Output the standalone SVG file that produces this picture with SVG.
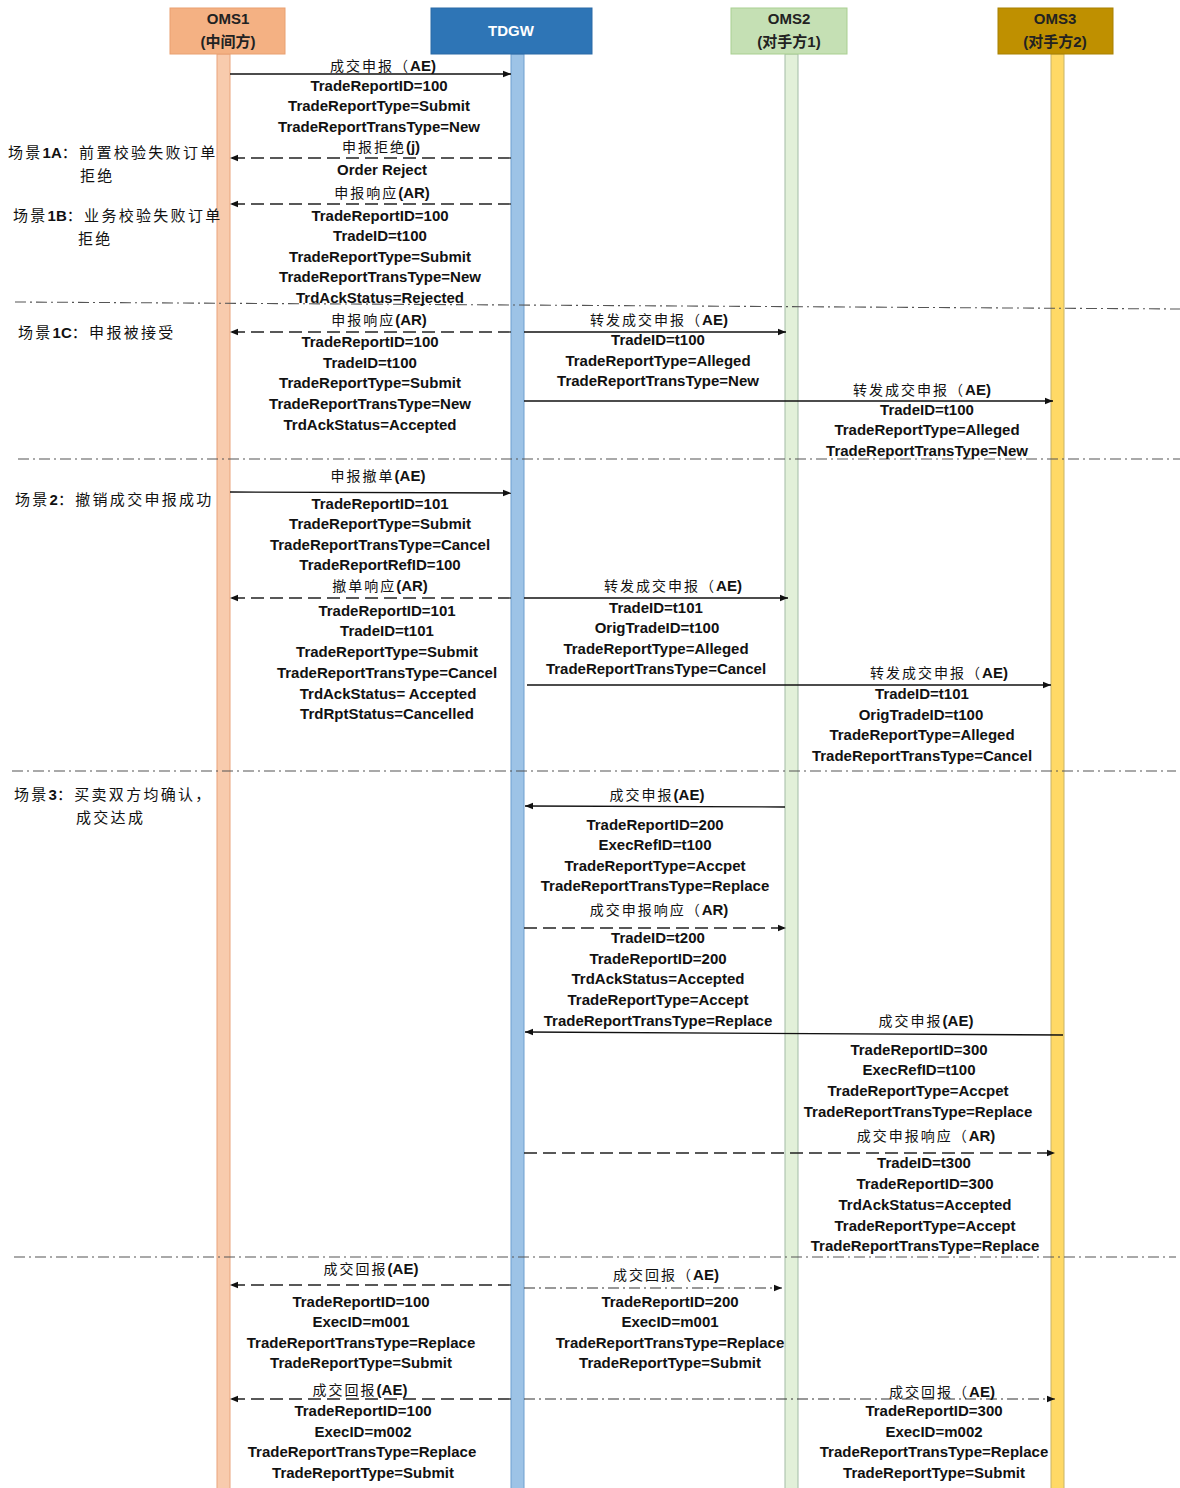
<svg xmlns="http://www.w3.org/2000/svg" width="1180" height="1488" viewBox="0 0 1180 1488">
<style>
.hd{font-family:"Liberation Sans","Noto Sans CJK SC",sans-serif;font-size:15px;font-weight:bold;fill:#222;text-anchor:middle}
.hc{font-family:"Noto Sans CJK SC",sans-serif;font-weight:bold}
.t{font-family:"Liberation Sans","Noto Sans CJK SC",sans-serif;font-size:15px;font-weight:bold;fill:#111;text-anchor:middle}
.c{font-family:"Noto Sans CJK SC",sans-serif;font-size:14px;font-weight:normal;letter-spacing:2px}
.s{font-family:"Noto Sans CJK SC",sans-serif;font-size:15px;font-weight:normal;letter-spacing:2.3px;fill:#111}
.sb{font-family:"Liberation Sans",sans-serif;font-weight:bold;letter-spacing:0}
.sol{stroke:#111;stroke-width:1.3;fill:none;marker-end:url(#ah)}
.dsh{stroke:#222;stroke-width:1.3;fill:none;stroke-dasharray:13 6;marker-end:url(#ah)}
.dd{stroke:#333;stroke-width:1.2;fill:none;stroke-dasharray:11 4 2 4;marker-end:url(#ah)}
.sep{stroke:#555;stroke-width:1.1;fill:none;stroke-dasharray:11 4 2 4}
</style>
<defs>
<marker id="ah" viewBox="0 0 10 10" refX="10" refY="5" markerWidth="9" markerHeight="8" markerUnits="userSpaceOnUse" orient="auto">
<path d="M0,1 L10,5 L0,9 z" fill="#111"/>
</marker>
</defs>
<rect width="1180" height="1488" fill="#fff"/>

<g id="oms1">
<rect x="217" y="54" width="13" height="1440" fill="#F8CBAD" stroke="#E9A47C" stroke-width="1"/>
<rect x="170" y="8" width="115" height="46" fill="#F4B183" stroke="#E9A070" stroke-width="1"/>
<text class="hd" x="228" y="24">OMS1</text>
<text class="hd" x="228" y="47">(<tspan class="hc">中间方</tspan>)</text>
</g>
<g id="tdgw">
<rect x="511" y="54" width="13" height="1440" fill="#9DC3E6" stroke="#6F9FCF" stroke-width="1"/>
<rect x="431" y="8" width="161" height="46" fill="#2E75B6" stroke="#2A6AA6" stroke-width="1"/>
<text class="hd" x="511" y="36" style="fill:#fff">TDGW</text>
</g>
<g id="oms2">
<rect x="785" y="54" width="13" height="1440" fill="#E2F0D9" stroke="#A3BCA6" stroke-width="1"/>
<rect x="731" y="8" width="116" height="46" fill="#C5E0B4" stroke="#A9CF91" stroke-width="1"/>
<text class="hd" x="789" y="24">OMS2</text>
<text class="hd" x="789" y="47">(<tspan class="hc">对手方</tspan>1)</text>
</g>
<g id="oms3">
<rect x="1051" y="54" width="13" height="1440" fill="#FFD966" stroke="#C9B466" stroke-width="1"/>
<rect x="998" y="8" width="115" height="46" fill="#BF9000" stroke="#A88000" stroke-width="1"/>
<text class="hd" x="1055" y="24">OMS3</text>
<text class="hd" x="1055" y="47">(<tspan class="hc">对手方</tspan>2)</text>
</g>

<g id="separators">
<line class="sep" x1="15" y1="302" x2="1180" y2="309"/>
<line class="sep" x1="18" y1="459" x2="1180" y2="459"/>
<line class="sep" x1="12" y1="771" x2="1176" y2="771"/>
<line class="sep" x1="14" y1="1257" x2="1176" y2="1257"/>
</g>

<g id="scenarios">
<text class="s" x="8" y="158">场景<tspan class="sb">1A</tspan>：前置校验失败订单</text>
<text class="s" x="80" y="181">拒绝</text>
<text class="s" x="13" y="221">场景<tspan class="sb">1B</tspan>：业务校验失败订单</text>
<text class="s" x="78" y="244">拒绝</text>
<text class="s" x="18" y="338">场景<tspan class="sb">1C</tspan>：申报被接受</text>
<text class="s" x="15" y="505">场景<tspan class="sb">2</tspan>：撤销成交申报成功</text>
<text class="s" x="14" y="800">场景<tspan class="sb">3</tspan>：买卖双方均确认，</text>
<text class="s" x="76" y="823">成交达成</text>
</g>

<g id="connectors">
<line class="sol" x1="230" y1="74" x2="511" y2="74"/>
<line class="dsh" x1="511" y1="158" x2="230" y2="158"/>
<line class="dsh" x1="511" y1="204" x2="230" y2="204"/>
<line class="dsh" x1="511" y1="332" x2="230" y2="332"/>
<line class="sol" x1="524" y1="332" x2="786" y2="332"/>
<line class="sol" x1="524" y1="401" x2="1053" y2="401"/>
<line class="sol" x1="230" y1="492" x2="511" y2="493"/>
<line class="dsh" x1="511" y1="598" x2="230" y2="598"/>
<line class="sol" x1="524" y1="598" x2="788" y2="598"/>
<line class="sol" x1="527" y1="685" x2="1051" y2="685"/>
<line class="sol" x1="785" y1="807" x2="525" y2="806"/>
<line class="dsh" x1="524" y1="928" x2="786" y2="928"/>
<line class="sol" x1="1063" y1="1035" x2="525" y2="1032"/>
<line class="dsh" x1="524" y1="1153" x2="1055" y2="1153"/>
<line class="dsh" x1="511" y1="1285" x2="230" y2="1285"/>
<line class="dd" x1="524" y1="1288" x2="782" y2="1288"/>
<line class="dsh" x1="511" y1="1399" x2="230" y2="1399"/>
<line class="dd" x1="524" y1="1399" x2="1055" y2="1399"/>
</g>

<g id="labels">
<text class="t" x="383" y="71"><tspan class="c">成交申报（</tspan>AE)</text>
<text class="t" x="379" y="91">TradeReportID=100</text>
<text class="t" x="379" y="111">TradeReportType=Submit</text>
<text class="t" x="379" y="132">TradeReportTransType=New</text>
<text class="t" x="381" y="152"><tspan class="c">申报拒绝</tspan>(j)</text>
<text class="t" x="382" y="175">Order Reject</text>
<text class="t" x="382" y="198"><tspan class="c">申报响应</tspan>(AR)</text>
<text class="t" x="380" y="221">TradeReportID=100</text>
<text class="t" x="380" y="241">TradeID=t100</text>
<text class="t" x="380" y="262">TradeReportType=Submit</text>
<text class="t" x="380" y="282">TradeReportTransType=New</text>
<text class="t" x="380" y="303">TrdAckStatus=Rejected</text>

<text class="t" x="379" y="325"><tspan class="c">申报响应</tspan>(AR)</text>
<text class="t" x="370" y="347">TradeReportID=100</text>
<text class="t" x="370" y="368">TradeID=t100</text>
<text class="t" x="370" y="388">TradeReportType=Submit</text>
<text class="t" x="370" y="409">TradeReportTransType=New</text>
<text class="t" x="370" y="430">TrdAckStatus=Accepted</text>
<text class="t" x="659" y="325"><tspan class="c">转发成交申报（</tspan>AE)</text>
<text class="t" x="658" y="345">TradeID=t100</text>
<text class="t" x="658" y="366">TradeReportType=Alleged</text>
<text class="t" x="658" y="386">TradeReportTransType=New</text>
<text class="t" x="922" y="395"><tspan class="c">转发成交申报（</tspan>AE)</text>
<text class="t" x="927" y="415">TradeID=t100</text>
<text class="t" x="927" y="435">TradeReportType=Alleged</text>
<text class="t" x="927" y="456">TradeReportTransType=New</text>

<text class="t" x="378" y="481"><tspan class="c">申报撤单</tspan>(AE)</text>
<text class="t" x="380" y="509">TradeReportID=101</text>
<text class="t" x="380" y="529">TradeReportType=Submit</text>
<text class="t" x="380" y="550">TradeReportTransType=Cancel</text>
<text class="t" x="380" y="570">TradeReportRefID=100</text>
<text class="t" x="380" y="591"><tspan class="c">撤单响应</tspan>(AR)</text>
<text class="t" x="387" y="616">TradeReportID=101</text>
<text class="t" x="387" y="636">TradeID=t101</text>
<text class="t" x="387" y="657">TradeReportType=Submit</text>
<text class="t" x="387" y="678">TradeReportTransType=Cancel</text>
<text class="t" x="388" y="699">TrdAckStatus= Accepted</text>
<text class="t" x="387" y="719">TrdRptStatus=Cancelled</text>
<text class="t" x="673" y="591"><tspan class="c">转发成交申报（</tspan>AE)</text>
<text class="t" x="656" y="613">TradeID=t101</text>
<text class="t" x="657" y="633">OrigTradeID=t100</text>
<text class="t" x="656" y="654">TradeReportType=Alleged</text>
<text class="t" x="656" y="674">TradeReportTransType=Cancel</text>
<text class="t" x="939" y="678"><tspan class="c">转发成交申报（</tspan>AE)</text>
<text class="t" x="922" y="699">TradeID=t101</text>
<text class="t" x="921" y="720">OrigTradeID=t100</text>
<text class="t" x="922" y="740">TradeReportType=Alleged</text>
<text class="t" x="922" y="761">TradeReportTransType=Cancel</text>

<text class="t" x="657" y="800"><tspan class="c">成交申报</tspan>(AE)</text>
<text class="t" x="655" y="830">TradeReportID=200</text>
<text class="t" x="655" y="850">ExecRefID=t100</text>
<text class="t" x="655" y="871">TradeReportType=Accpet</text>
<text class="t" x="655" y="891">TradeReportTransType=Replace</text>
<text class="t" x="659" y="915"><tspan class="c">成交申报响应（</tspan>AR)</text>
<text class="t" x="658" y="943">TradeID=t200</text>
<text class="t" x="658" y="964">TradeReportID=200</text>
<text class="t" x="658" y="984">TrdAckStatus=Accepted</text>
<text class="t" x="658" y="1005">TradeReportType=Accept</text>
<text class="t" x="658" y="1026">TradeReportTransType=Replace</text>
<text class="t" x="926" y="1026"><tspan class="c">成交申报</tspan>(AE)</text>
<text class="t" x="919" y="1055">TradeReportID=300</text>
<text class="t" x="919" y="1075">ExecRefID=t100</text>
<text class="t" x="918" y="1096">TradeReportType=Accpet</text>
<text class="t" x="918" y="1117">TradeReportTransType=Replace</text>
<text class="t" x="926" y="1141"><tspan class="c">成交申报响应（</tspan>AR)</text>
<text class="t" x="924" y="1168">TradeID=t300</text>
<text class="t" x="925" y="1189">TradeReportID=300</text>
<text class="t" x="925" y="1210">TrdAckStatus=Accepted</text>
<text class="t" x="925" y="1231">TradeReportType=Accept</text>
<text class="t" x="925" y="1251">TradeReportTransType=Replace</text>

<text class="t" x="371" y="1274"><tspan class="c">成交回报</tspan>(AE)</text>
<text class="t" x="361" y="1307">TradeReportID=100</text>
<text class="t" x="361" y="1327">ExecID=m001</text>
<text class="t" x="361" y="1348">TradeReportTransType=Replace</text>
<text class="t" x="361" y="1368">TradeReportType=Submit</text>
<text class="t" x="666" y="1280"><tspan class="c">成交回报（</tspan>AE)</text>
<text class="t" x="670" y="1307">TradeReportID=200</text>
<text class="t" x="670" y="1327">ExecID=m001</text>
<text class="t" x="670" y="1348">TradeReportTransType=Replace</text>
<text class="t" x="670" y="1368">TradeReportType=Submit</text>
<text class="t" x="360" y="1395"><tspan class="c">成交回报</tspan>(AE)</text>
<text class="t" x="363" y="1416">TradeReportID=100</text>
<text class="t" x="363" y="1437">ExecID=m002</text>
<text class="t" x="362" y="1457">TradeReportTransType=Replace</text>
<text class="t" x="363" y="1478">TradeReportType=Submit</text>
<text class="t" x="942" y="1397"><tspan class="c">成交回报（</tspan>AE)</text>
<text class="t" x="934" y="1416">TradeReportID=300</text>
<text class="t" x="934" y="1437">ExecID=m002</text>
<text class="t" x="934" y="1457">TradeReportTransType=Replace</text>
<text class="t" x="934" y="1478">TradeReportType=Submit</text>
</g>
</svg>
